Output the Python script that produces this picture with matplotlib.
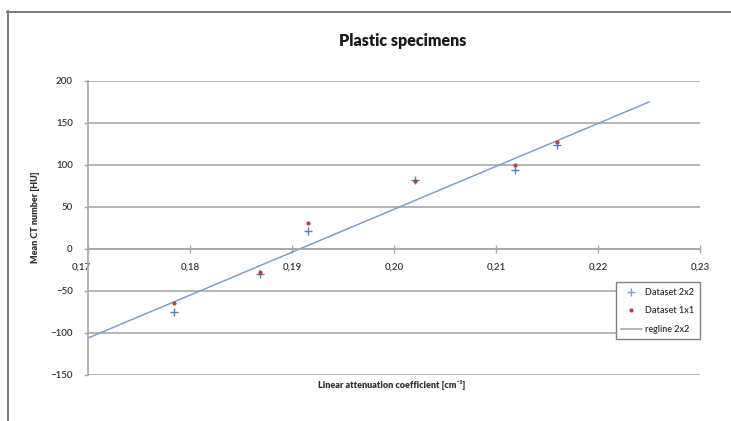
import matplotlib
matplotlib.use("Agg")
import matplotlib.pyplot as plt
from matplotlib.lines import Line2D
from matplotlib.ticker import FuncFormatter
import matplotlib.transforms as mtransforms

# ---- data ----
x_vals = [0.1784, 0.1869, 0.1916, 0.2021, 0.2119, 0.2160]
dataset_2x2 = [-75, -30, 21, 82, 94, 124]
dataset_1x1 = [-64, -27, 31, 81, 100, 127]
reg_x = [0.170, 0.225]
reg_y = [-106, 175]

x_ticks = [0.17, 0.18, 0.19, 0.20, 0.21, 0.22, 0.23]
y_ticks = [-150, -100, -50, 0, 50, 100, 150, 200]

title = "Plastic specimens"
xlabel = "Linear attenuation coefficient [cm⁻¹]"
ylabel = "Mean CT number [HU]"
labels = ["Dataset 2x2", "Dataset 1x1", "regline 2x2"]

plt.rcParams['font.family'] = ['Lato', 'DejaVu Sans']

W, H = 731, 421
fig = plt.figure(figsize=(W / 100, H / 100), dpi=100)
fig.patch.set_facecolor('white')

L, R, T, B = 88, 700, 81, 375
ax = fig.add_axes([L / W, 1 - B / H, (R - L) / W, (B - T) / H])
ax.set_facecolor('white')

grid_c = '#a8a8a8'
ax.set_xlim(0.17, 0.23)
ax.set_ylim(-150, 200)
ax.set_yticks(y_ticks)
ax.set_xticks(x_ticks)
ax.yaxis.grid(True, color=grid_c, linewidth=1.2)
ax.set_axisbelow(True)

for s in ['top', 'right']:
    ax.spines[s].set_visible(False)
ax.spines['left'].set_color(grid_c)
ax.spines['left'].set_linewidth(1.2)
ax.spines['bottom'].set_position(('data', 0))
ax.spines['bottom'].set_color(grid_c)
ax.spines['bottom'].set_linewidth(1.2)

fmt = FuncFormatter(lambda v, p: f"{v:.2f}".replace('.', ','))
ax.xaxis.set_major_formatter(fmt)
ax.tick_params(axis='x', direction='inout', length=6, width=1.0, color=grid_c,
               labelsize=7, labelcolor='#333333', pad=7)
ax.tick_params(axis='y', direction='out', length=3, width=1.0, color=grid_c,
               labelsize=7, labelcolor='#333333', pad=8)
for t in ax.get_xticklabels() + ax.get_yticklabels():
    t.set_fontweight('semibold')

# shift the first x tick label left like the reference
lbl0 = ax.get_xticklabels()[0]
lbl0.set_transform(lbl0.get_transform() + mtransforms.ScaledTranslation(-7 / 100, 0, fig.dpi_scale_trans))

ax.plot(reg_x, reg_y, color='#7f9fcc', linewidth=1.1, label=labels[2], zorder=2)
ax.plot(x_vals, dataset_2x2, linestyle='none', marker='+', markersize=6,
        markeredgewidth=1.0, color='#4f81bd', label=labels[0], zorder=3)
ax.plot(x_vals, dataset_1x1, linestyle='none', marker='o', markersize=3,
        markeredgewidth=0, color='#b8403e', label=labels[1], zorder=4)

handles = [
    Line2D([], [], linestyle='none', marker='+', markersize=5.5, markeredgewidth=1.0, color='#7f9fcc'),
    Line2D([], [], linestyle='none', marker='o', markersize=3, markeredgewidth=0, color='#b8403e'),
    Line2D([], [], color='#a0a0a0', linewidth=1.1),
]
leg = ax.legend(handles, labels, loc='upper right', bbox_to_anchor=(1.0, 0.315),
                fontsize=6.5, frameon=True, fancybox=False, framealpha=1,
                edgecolor='#808080', handlelength=2.3, handletextpad=0.4,
                labelspacing=1.05, borderpad=0.6, borderaxespad=0)
leg.get_frame().set_linewidth(1.0)
for t in leg.get_texts():
    t.set_color('#303030')
    t.set_fontweight('semibold')

fig.text(403 / W, 1 - 41 / H, title, ha='center', va='center',
         fontsize=11.5, fontweight='heavy', color='#1a1a1a')
fig.text(392 / W, 1 - 385 / H, xlabel, ha='center', va='center',
         fontsize=6.5, fontweight='heavy', color='#303030')
fig.text(36 / W, 1 - 217 / H, ylabel, ha='center', va='center', rotation=90,
         fontsize=6.5, fontweight='heavy', color='#303030')

# outer chart frame (left and top edges visible)
fig.add_artist(Line2D([7.5 / W, 7.5 / W], [0, 1 - 11 / H], transform=fig.transFigure,
                      color='#707070', linewidth=1.3))
fig.add_artist(Line2D([7 / W, 1], [1 - 11.5 / H, 1 - 11.5 / H], transform=fig.transFigure,
                      color='#707070', linewidth=1.3))

fig.savefig('out.png', dpi=100, facecolor='white')
